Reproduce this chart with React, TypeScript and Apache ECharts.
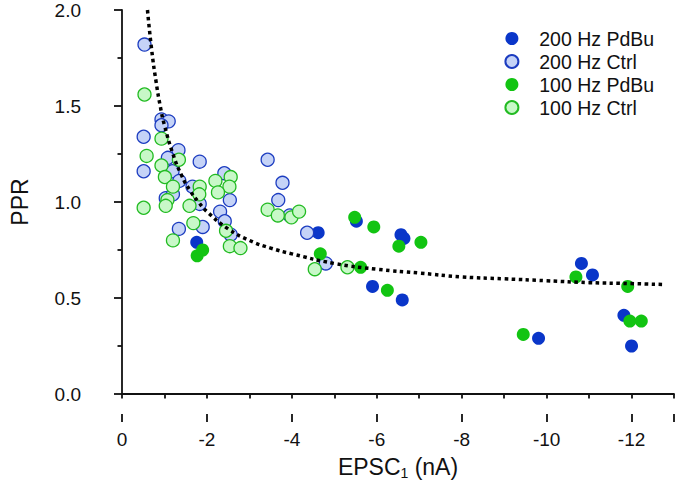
import React, { useEffect, useRef } from "react";
import * as echarts from "echarts";

const seriesNames = ["200 Hz PdBu", "200 Hz Ctrl", "100 Hz PdBu", "100 Hz Ctrl"];

const pdbu200X = [-1.76, -4.62, -5.52, -6.57, -6.64, -5.9, -6.6, -9.81, -10.82, -11.08, -11.82, -12.0];
const pdbu200Y = [0.79, 0.84, 0.9, 0.83, 0.81, 0.56, 0.49, 0.29, 0.68, 0.62, 0.41, 0.25];

const ctrl200X = [-0.53, -0.93, -1.1, -0.93, -0.51, -1.33, -1.08, -0.51, -1.19, -1.35, -1.83, -3.43, -3.78, -3.68,
  -2.41, -2.54, -1.66, -1.83, -1.03, -1.2, -2.31, -2.42, -1.34, -1.9, -2.56, -3.95, -4.36, -4.8];
const ctrl200Y = [1.82, 1.43, 1.42, 1.4, 1.34, 1.27, 1.23, 1.16, 1.16, 1.11, 1.21, 1.22, 1.1, 1.01,
  1.15, 1.01, 1.08, 0.99, 1.02, 1.04, 0.95, 0.9, 0.86, 0.87, 0.83, 0.93, 0.84, 0.68];

const pdbu100X = [-1.77, -1.9, -4.67, -5.48, -5.93, -6.52, -7.04, -5.62, -6.25, -9.45, -10.69, -11.91, -11.96, -12.23];
const pdbu100Y = [0.72, 0.75, 0.73, 0.92, 0.87, 0.77, 0.79, 0.66, 0.54, 0.31, 0.61, 0.56, 0.38, 0.38];

const ctrl100X = [-0.53, -0.93, -0.58, -1.34, -0.93, -1.01, -1.2, -1.07, -1.03, -0.51, -1.59, -1.83, -1.82, -2.2,
  -2.56, -2.53, -2.26, -1.68, -1.2, -2.45, -2.54, -2.79, -3.43, -3.67, -3.99, -4.17, -4.54, -5.31];
const ctrl100Y = [1.56, 1.33, 1.24, 1.22, 1.19, 1.13, 1.08, 1.01, 0.98, 0.97, 0.98, 1.08, 1.04, 1.11,
  1.13, 1.08, 1.05, 0.89, 0.8, 0.85, 0.77, 0.76, 0.96, 0.93, 0.92, 0.95, 0.65, 0.66];

const fitX = [-0.6, -0.7, -0.8, -0.9, -1.0, -1.2, -1.4, -1.6, -1.8, -2.0, -2.5, -3.0, -3.5, -4.0, -5.0, -6.0,
  -7.0, -8.0, -9.0, -10.0, -11.0, -12.0, -12.8];
const fitY = [2.0, 1.79, 1.63, 1.5, 1.4, 1.25, 1.14, 1.06, 1.0, 0.95, 0.86, 0.8, 0.76, 0.73, 0.68, 0.65,
  0.63, 0.61, 0.6, 0.59, 0.58, 0.575, 0.57];

const xTickLabels = ["0", "-2", "-4", "-6", "-8", "-10", "-12"];
const yTickLabels = ["0.0", "0.5", "1.0", "1.5", "2.0"];

const pairs = (xs: number[], ys: number[]) => xs.map((x, i) => [x, ys[i]]);

const FONT = "'Liberation Sans', Arial, Helvetica, sans-serif";
const AXIS_COLOR = "#111";

export default function App() {
  const ref = useRef<HTMLDivElement>(null);
  useEffect(() => {
    if (!ref.current) return;
    const chart = echarts.init(ref.current, null, { renderer: "svg" });
    const scatterBase = { type: "scatter", symbol: "circle", symbolSize: 13, xAxisIndex: 0, yAxisIndex: 0 };
    chart.setOption({
      animation: false,
      textStyle: { fontFamily: FONT },
      grid: { left: 117.3, right: 0.7, top: 10, bottom: 97 },
      legend: {
        orient: "vertical",
        left: 499.4,
        top: 22,
        itemWidth: 44.6,
        itemHeight: 13,
        itemGap: 0,
        icon: "circle",
        data: seriesNames,
        textStyle: { fontSize: 19.5, lineHeight: 23, color: "#111", fontFamily: FONT },
      },
      xAxis: [
        {
          type: "value",
          min: -13,
          max: 0,
          interval: 1,
          inverse: true,
          position: "bottom",
          offset: 20,
          name: "{a|EPSC}{b|1}{a| (nA)}",
          nameLocation: "middle",
          nameGap: 40,
          nameTextStyle: {
            rich: {
              a: { fontSize: 23, lineHeight: 26, color: "#111", fontFamily: FONT },
              b: { fontSize: 14, lineHeight: 14, color: "#111", fontFamily: FONT, verticalAlign: "bottom" },
            },
          },
          axisLine: { show: true, lineStyle: { color: AXIS_COLOR, width: 1.8 } },
          axisTick: { show: true, length: 4.5, lineStyle: { color: AXIS_COLOR, width: 1.8 } },
          axisLabel: { show: false },
          splitLine: { show: false },
        },
        {
          type: "value",
          min: 0,
          max: 13,
          interval: 2,
          position: "bottom",
          offset: 20,
          axisLine: { show: false },
          axisTick: { show: true, length: 8, lineStyle: { color: AXIS_COLOR, width: 1.8 } },
          axisLabel: {
            show: true,
            margin: 16,
            fontSize: 19,
            color: "#111",
            fontFamily: FONT,
            formatter: (v: number) => xTickLabels[Math.round(v / 2)] ?? "",
          },
          splitLine: { show: false },
        },
      ],
      yAxis: {
        type: "value",
        min: 0,
        max: 2,
        interval: 0.5,
        offset: 29,
        name: "PPR",
        nameLocation: "middle",
        nameGap: 62,
        nameTextStyle: { fontSize: 23, color: "#111", fontFamily: FONT },
        axisLine: { show: true, lineStyle: { color: AXIS_COLOR, width: 1.8 } },
        axisTick: { show: true, length: 8, lineStyle: { color: AXIS_COLOR, width: 1.8 } },
        minorTick: { show: true, splitNumber: 2, length: 4.5, lineStyle: { color: AXIS_COLOR, width: 1.8 } },
        axisLabel: {
          margin: 12,
          fontSize: 19,
          color: "#111",
          fontFamily: FONT,
          formatter: (v: number) => yTickLabels[Math.round(v / 0.5)] ?? "",
        },
        splitLine: { show: false },
        minorSplitLine: { show: false },
      },
      series: [
        {
          name: "fit",
          type: "line",
          data: pairs(fitX, fitY),
          smooth: true,
          showSymbol: false,
          symbol: "none",
          silent: true,
          lineStyle: { color: "#000", width: 3.5, type: [3.5, 3.5], cap: "butt" },
        },
        {
          ...scatterBase,
          name: seriesNames[0],
          data: pairs(pdbu200X, pdbu200Y),
          itemStyle: { color: "#0a36c9", opacity: 1 },
        },
        {
          ...scatterBase,
          name: seriesNames[1],
          data: pairs(ctrl200X, ctrl200Y),
          itemStyle: { color: "#c5d3f7", borderColor: "#1c3cc0", borderWidth: 1.3, opacity: 1 },
        },
        {
          ...scatterBase,
          name: seriesNames[2],
          data: pairs(pdbu100X, pdbu100Y),
          itemStyle: { color: "#12c412", opacity: 1 },
        },
        {
          ...scatterBase,
          name: seriesNames[3],
          data: pairs(ctrl100X, ctrl100Y),
          itemStyle: { color: "#c8f8c8", borderColor: "#22bb22", borderWidth: 1.3, opacity: 1 },
        },
      ],
    });
    return () => chart.dispose();
  }, []);
  return (
    <div
      ref={ref}
      style={{ position: "fixed", left: 0, top: 0, width: 677, height: 491, background: "#fff" }}
    />
  );
}
